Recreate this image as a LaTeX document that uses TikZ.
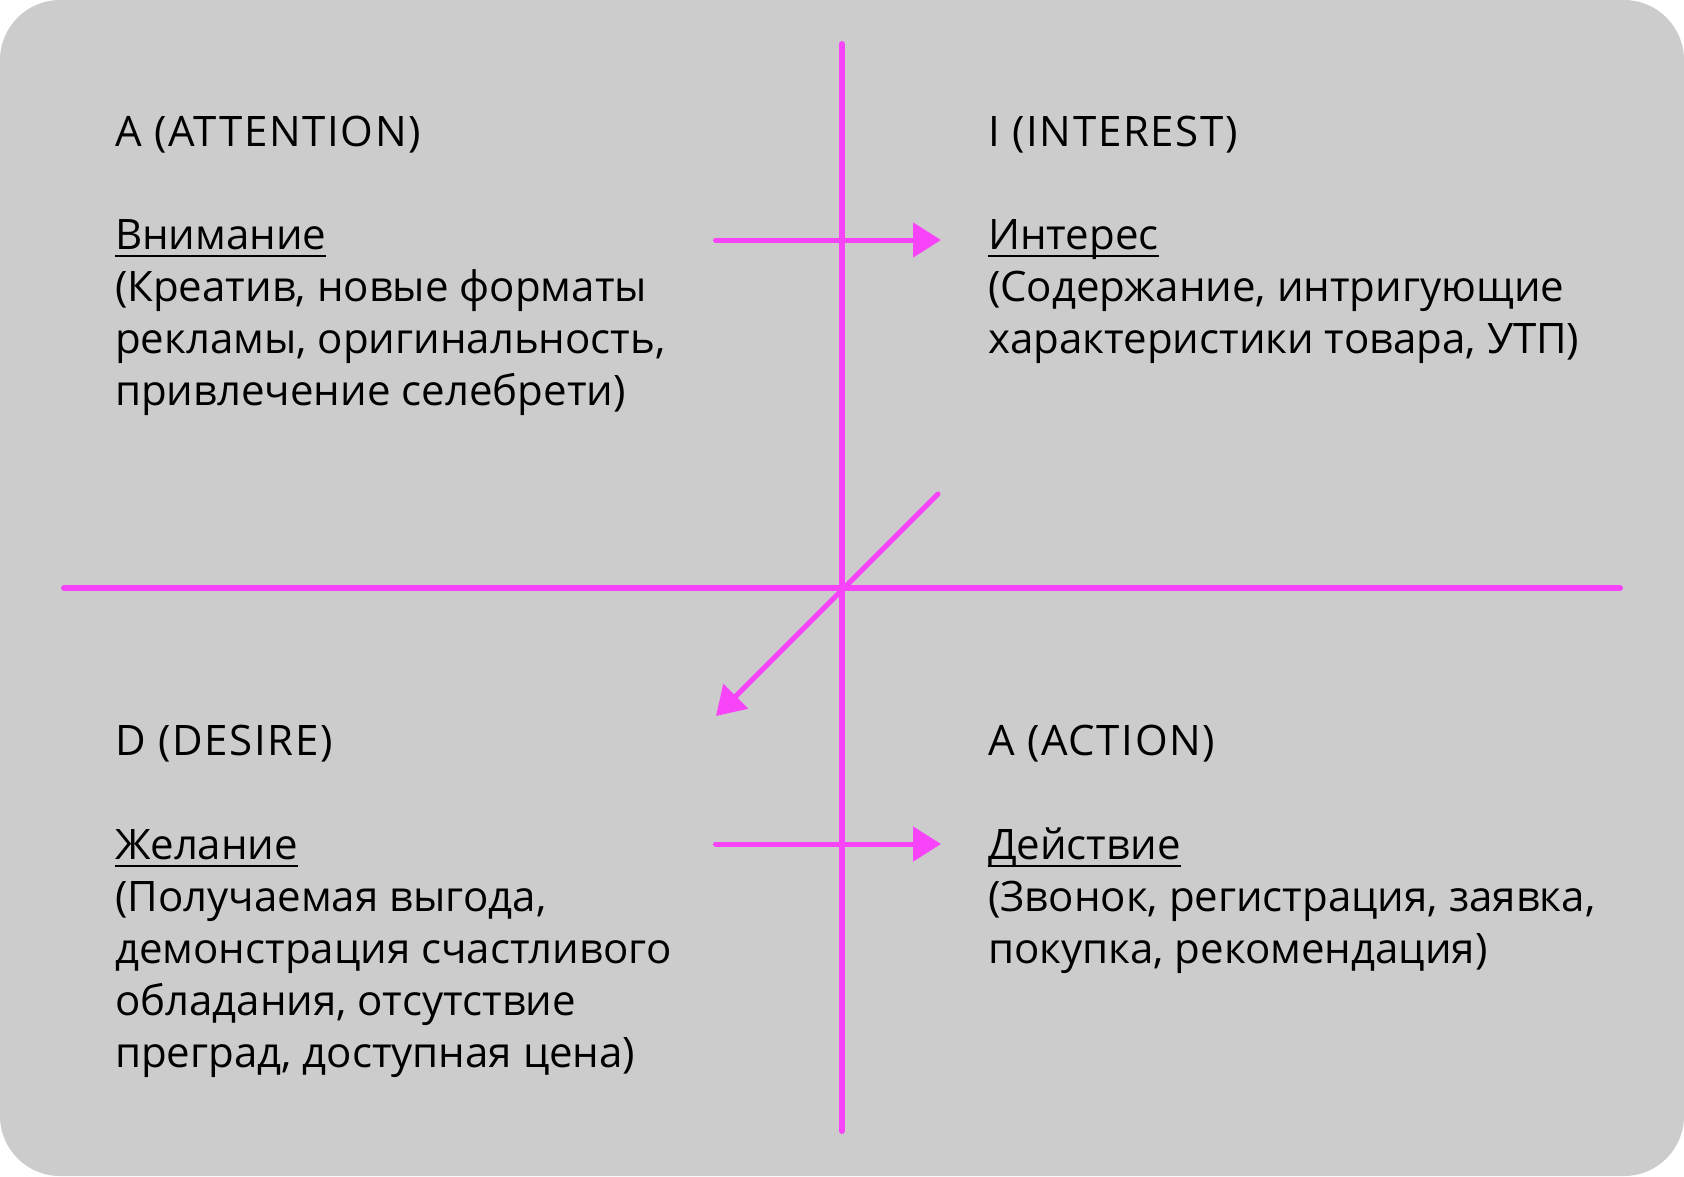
\documentclass[tikz,border=0pt]{standalone}
\usepackage{fontspec}
\setmainfont{Open Sans}
\newfontfamily\titlefont[LetterSpace=4]{Open Sans}
\usetikzlibrary{arrows.meta}
\definecolor{bg}{HTML}{CCCCCC}
\definecolor{mag}{HTML}{F844F8}
\tikzset{
  axis/.style={draw=mag, line width=6pt, line cap=round},
  flow/.style={draw=mag, line width=5pt, line cap=round, -{Triangle[length=28pt,width=34pt]}},
  txt/.style={anchor=base west, inner sep=0pt, outer sep=0pt, font=\fontsize{42}{52}\selectfont, text=black},
  ttl/.style={txt, font=\fontsize{42}{52}\selectfont\titlefont},
  uline/.style={draw=black, line width=2.5pt}
}
\begin{document}
\begin{tikzpicture}[x=1pt,y=-1pt]
\useasboundingbox (0,0) rectangle (1684,1176);
\fill[bg, rounded corners=60pt] (0,0) rectangle (1684,1176);
% axes
\coordinate (vt) at (842,44);
\coordinate (vb) at (842,1131);
\coordinate (hl) at (64,588);
\coordinate (hr) at (1620,588);
\draw[axis] (vt) -- (vb);
\draw[axis] (hl) -- (hr);
% arrows
\coordinate (a1s) at (715.5,240);
\coordinate (a1e) at (941,240);
\coordinate (a2s) at (938,494);
\coordinate (a2e) at (716,716);
\coordinate (a3s) at (715.5,844);
\coordinate (a3e) at (941,844);
\draw[flow] (a1s) -- (a1e);
\draw[flow] (a2s) -- (a2e);
\draw[flow] (a3s) -- (a3e);
% top-left
\node[ttl] (at) at (115,146) {A (ATTENTION)};
\node[txt] (ah) at (115,249) {Внимание};
\node[txt] (a1) at (115,301) {(Креатив, новые форматы};
\node[txt] (a2) at (115,353) {рекламы, оригинальность,};
\node[txt] (a3) at (115,405) {привлечение селебрети)};
% top-right
\node[ttl] (it) at (988,146) {I (INTEREST)};
\node[txt] (ih) at (988,249) {Интерес};
\node[txt] (i1) at (988,301) {(Содержание, интригующие};
\node[txt] (i2) at (988,353) {характеристики товара, УТП)};
% bottom-left
\node[ttl] (dt) at (115,755) {D (DESIRE)};
\node[txt] (dh) at (115,859) {Желание};
\node[txt] (d1) at (115,911) {(Получаемая выгода,};
\node[txt] (d2) at (115,963) {демонстрация счастливого};
\node[txt] (d3) at (115,1015) {обладания, отсутствие};
\node[txt] (d4) at (115,1067) {преград, доступная цена)};
% bottom-right
\node[ttl] (ct) at (988,755) {A (ACTION)};
\node[txt] (ch) at (988,859) {Действие};
\node[txt] (c1) at (988,911) {(Звонок, регистрация, заявка,};
\node[txt] (c2) at (988,963) {покупка, рекомендация)};
% underlines
\foreach \n in {ah,ih,dh,ch}{
  \draw[uline] ([yshift=-7pt]\n.base west) -- ([yshift=-7pt]\n.base east);
}
\end{tikzpicture}
\end{document}
